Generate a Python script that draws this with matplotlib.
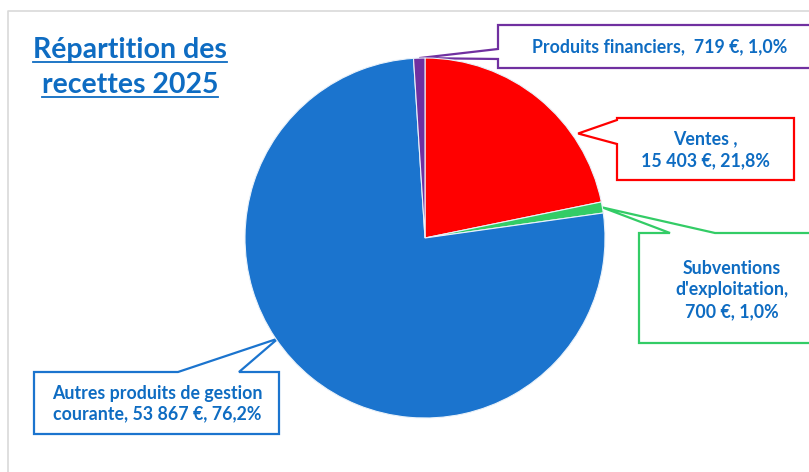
import numpy as np
from matplotlib import pyplot as plt
from matplotlib.patches import Polygon
from matplotlib.lines import Line2D

# data
labels = ["Ventes", "Subventions d'exploitation", "Autres produits de gestion courante", "Produits financiers"]
values = [15403, 700, 53867, 719]
colors = ["#FF0000", "#33CC66", "#1B74CE", "#7030A0"]
texts = ["Ventes ,\n15 403 €, 21,8%",
         "Subventions\nd'exploitation,\n700 €, 1,0%",
         "Autres produits de gestion\ncourante, 53 867 €, 76,2%",
         "Produits financiers,  719 €, 1,0%"]

TXT = "#0E6CC2"
W, H = 809, 472
plt.rcParams['font.family'] = ['Lato', 'DejaVu Sans']

fig = plt.figure(figsize=(W / 100, H / 100), dpi=100)

# overlay in pixel coords (y going down)
ov = fig.add_axes([0, 0, 1, 1])
ov.set_xlim(0, W)
ov.set_ylim(H, 0)
ov.axis("off")

# pie axes: centre (425, 238), radius 180 px
cx, cy, r = 425, 238, 180
ax = fig.add_axes([(cx - r) / W, (H - cy - r) / H, 2 * r / W, 2 * r / H])
wedges, _ = ax.pie(values, colors=colors, startangle=90, counterclock=False,
                   wedgeprops=dict(edgecolor="#EAF2FA", linewidth=0.8))
ax.set_xlim(-1, 1)
ax.set_ylim(-1, 1)
ax.set_aspect("equal")
ax.axis("off")

# chart frame
ov.add_line(Line2D([8, 8, W + 5], [H + 5, 11, 11], color="#D9D9D9", lw=1.2))


def tip_of(w, frac, rad=1.0):
    a = np.deg2rad(w.theta1 + frac * (w.theta2 - w.theta1))
    p = ax.transData.transform((rad * np.cos(a), rad * np.sin(a)))
    return ov.transData.inverted().transform(p)


def callout(box, tip, side, a, b, color):
    x0, y0, x1, y1 = box
    if side == "left":
        pts = [(x0, y0), (x1, y0), (x1, y1), (x0, y1), (x0, b), tuple(tip), (x0, a)]
    else:
        pts = [(x0, y0), (a, y0), tuple(tip), (b, y0), (x1, y0), (x1, y1), (x0, y1)]
    ov.add_patch(Polygon(pts, closed=True, facecolor="white", edgecolor=color, lw=1.6, zorder=3))


FS = 12.8

# callouts: (box, side, pointer start, pointer end, tip fraction in wedge)
callout((617, 118, 794, 180), tip_of(wedges[0], 0.29, 1.03), "left", 120, 144, colors[0])
ov.text(705, 150, texts[0], ha="center", va="center", color=TXT, fontsize=FS,
        fontweight="bold", linespacing=1.35, zorder=4)

callout((639, 233, 830, 343), tip_of(wedges[1], 0.5, 1.0), "top", 670, 715, colors[1])
ov.text(732, 290, texts[1], ha="center", va="center", color=TXT, fontsize=FS,
        fontweight="bold", linespacing=1.33, zorder=4)

callout((34, 372, 279, 434), tip_of(wedges[2], 0.44, 0.99), "top", 178, 239, colors[2])
ov.text(157, 404, texts[2], ha="center", va="center", color=TXT, fontsize=FS,
        fontweight="bold", linespacing=1.25, zorder=4)

callout((498, 25, 830, 68), tip_of(wedges[3], 0.5, 1.0), "left", 49, 59, colors[3])
ov.text(660, 47, texts[3], ha="center", va="center", color=TXT, fontsize=FS,
        fontweight="bold", zorder=4)

# title, underlined
fig.canvas.draw()
rend = fig.canvas.get_renderer()
for line, y in [("Répartition des", 50), ("recettes 2025", 85)]:
    t = ov.text(130, y, line, ha="center", va="center", color=TXT, fontsize=20.5, fontweight="bold")
    bb = t.get_window_extent(renderer=rend).transformed(ov.transData.inverted())
    yl = max(bb.y0, bb.y1) - 1
    ov.add_line(Line2D([bb.x0, bb.x1], [yl, yl], color=TXT, lw=1.3))

fig.savefig("out.png", dpi=100)
